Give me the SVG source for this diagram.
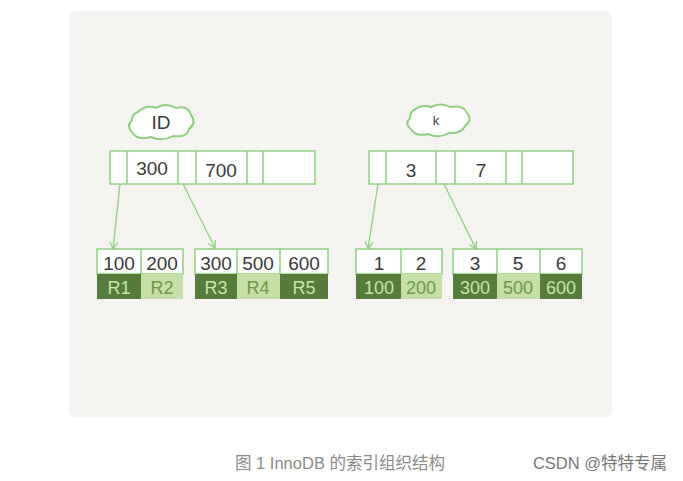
<svg xmlns="http://www.w3.org/2000/svg" width="683" height="481" viewBox="0 0 683 481">
<style>
.b{fill:#fff;stroke:#8fd080;stroke-width:1.5}
.r{fill:none;stroke:#8fd080;stroke-width:1.5}
.t{font-family:"Liberation Sans",sans-serif;font-size:19px;fill:#3a3a3a;text-anchor:middle}
.d{fill:#567c3c}.l{fill:#c6dfa6}
.td{font-family:"Liberation Sans",sans-serif;font-size:18px;fill:#c8e6a8;text-anchor:middle}
.tl{font-family:"Liberation Sans",sans-serif;font-size:18px;fill:#6b9a4a;text-anchor:middle}
.c{fill:#fff;stroke:#8fd080;stroke-width:2}
.a{stroke:#8fd080;stroke-width:1.3;fill:none}
</style>
<defs><marker id="m" markerWidth="10" markerHeight="10" refX="8" refY="5" orient="auto" markerUnits="userSpaceOnUse"><path d="M1,1 L8,5 L1,9" fill="none" stroke="#8fd080" stroke-width="1.3"/></marker></defs>
<rect width="683" height="481" fill="#fff"/>
<rect x="69" y="11" width="543" height="406" rx="6" fill="#f4f3f0"/>
<g id="cloud-id"><path class="c" d="M138,112 q8,-8 18,-4 q10,-6 20,0 q12,-3 15,7 q6,8 -2,14 q-2,9 -16,7 q-10,6 -22,1 q-14,4 -19,-5 q-6,-6 0,-12 q0,-6 6,-8z"/><text class="t" x="161" y="129">ID</text></g>
<g id="cloud-k"><path class="c" d="M414,110 q8,-6 17,-3 q10,-5 19,0 q14,-2 17,6 q6,7 -2,13 q-4,8 -16,7 q-10,6 -21,1 q-13,3 -17,-5 q-7,-5 -1,-11 q0,-6 4,-8z"/><text class="t" x="436" y="125" style="font-size:13px">k</text></g>
<g id="root-id"><rect class="b" x="110" y="151" width="205" height="33"/><path class="r" d="M127,151V184M178,151V184M196,151V184M247,151V184M263,151V184"/><text class="t" x="152" y="175">300</text><text class="t" x="221" y="177">700</text></g>
<g id="root-k"><rect class="b" x="369" y="151" width="204" height="33"/><path class="r" d="M386,151V184M436,151V184M455,151V184M506,151V184M522,151V184"/><text class="t" x="411" y="177">3</text><text class="t" x="481" y="177">7</text></g>
<g id="leaf-id-1"><rect class="b" x="97" y="249" width="86" height="25"/><path class="r" d="M141,249V274"/><rect class="d" x="97" y="274" width="44" height="25"/><rect class="l" x="141" y="274" width="42" height="25"/><text class="t" x="119" y="270">100</text><text class="t" x="162" y="270">200</text><text class="td" x="119" y="294">R1</text><text class="tl" x="162" y="294">R2</text></g>
<g id="leaf-id-2"><rect class="b" x="195" y="249" width="133" height="25"/><path class="r" d="M237,249V274M280,249V274"/><rect class="d" x="195" y="274" width="42" height="25"/><rect class="l" x="237" y="274" width="43" height="25"/><rect class="d" x="280" y="274" width="48" height="25"/><text class="t" x="216" y="270">300</text><text class="t" x="258" y="270">500</text><text class="t" x="304" y="270">600</text><text class="td" x="216" y="294">R3</text><text class="tl" x="258" y="294">R4</text><text class="td" x="304" y="294">R5</text></g>
<g id="leaf-k-1"><rect class="b" x="356" y="249" width="86" height="25"/><path class="r" d="M401,249V274"/><rect class="d" x="356" y="274" width="45" height="25"/><rect class="l" x="401" y="274" width="41" height="25"/><text class="t" x="379" y="270">1</text><text class="t" x="421" y="270">2</text><text class="td" x="379" y="294">100</text><text class="tl" x="421" y="294">200</text></g>
<g id="leaf-k-2"><rect class="b" x="453" y="249" width="129" height="25"/><path class="r" d="M497,249V274M540,249V274"/><rect class="d" x="453" y="274" width="44" height="25"/><rect class="l" x="497" y="274" width="43" height="25"/><rect class="d" x="540" y="274" width="42" height="25"/><text class="t" x="475" y="270">3</text><text class="t" x="518" y="270">5</text><text class="t" x="561" y="270">6</text><text class="td" x="475" y="294">300</text><text class="tl" x="518" y="294">500</text><text class="td" x="561" y="294">600</text></g>
<g id="connectors">
<line class="a" x1="120" y1="184" x2="113" y2="249" marker-end="url(#m)"/>
<line class="a" x1="183" y1="184" x2="215" y2="248" marker-end="url(#m)"/>
<line class="a" x1="378" y1="184" x2="368" y2="249" marker-end="url(#m)"/>
<line class="a" x1="444" y1="184" x2="476" y2="249" marker-end="url(#m)"/>
</g>
<text x="340" y="469" style="font-family:'Liberation Sans','Noto Sans CJK SC',sans-serif;font-size:16.5px;fill:#8a8a8a;text-anchor:middle">图 1 InnoDB 的索引组织结构</text>
<text x="600" y="469" style="font-family:'Liberation Sans','Noto Sans CJK SC',sans-serif;font-size:16.5px;fill:#777;text-anchor:middle">CSDN @特特专属</text>
</svg>
